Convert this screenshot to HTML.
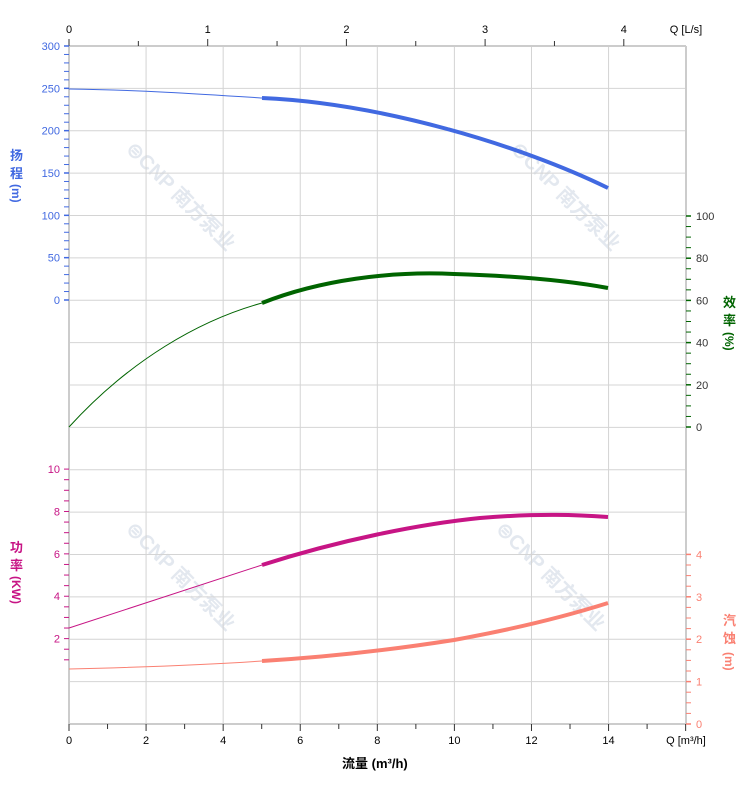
<!DOCTYPE html>
<html><head><meta charset="utf-8"><style>
body{margin:0;background:#fff;width:752px;height:797px;overflow:hidden}
svg{display:block;font-family:"Liberation Sans","Noto Sans CJK SC",sans-serif}
</style></head><body>
<svg id="s" width="752" height="797" xmlns="http://www.w3.org/2000/svg">
<g id="wm" fill="#e3e8ef" font-size="20" font-weight="bold">
<text transform="translate(125,150) rotate(45)">⊜CNP 南方泵业</text>
<text transform="translate(510,150) rotate(45)">⊜CNP 南方泵业</text>
<text transform="translate(125,530) rotate(45)">⊜CNP 南方泵业</text>
<text transform="translate(495,530) rotate(45)">⊜CNP 南方泵业</text>
</g>
<g id="grid" stroke="#d4d4d4" stroke-width="1"></g>
<g id="ax"></g>
<g fill="none" stroke-linecap="butt">
<path d="M69,89 C140,90 200,94 262,98" stroke="#4169E1" stroke-width="1"/>
<path d="M262,98 C380,103 520,145 608,188" stroke="#4169E1" stroke-width="4"/>
<path d="M69,427 C130,360 200,320 262,303" stroke="#006400" stroke-width="1"/>
<path d="M262,303 C320,280 390,271 454,274 C520,276 570,281 608,288" stroke="#006400" stroke-width="4"/>
<path d="M69,628 L262,565" stroke="#C71585" stroke-width="1"/>
<path d="M262,565 C340,540 420,524 480,518 C540,513 580,515 608,517" stroke="#C71585" stroke-width="4"/>
<path d="M69,669 C150,667 220,664 262,661" stroke="#FA8072" stroke-width="1"/>
<path d="M262,661 C330,657 390,650 454,640 C520,628 570,615 608,603" stroke="#FA8072" stroke-width="4"/>
</g>
<g font-size="13" font-weight="bold">
<text x="10" y="160" fill="#4169E1">扬</text><text x="10" y="178" fill="#4169E1">程</text>
<text transform="translate(12,184) rotate(90)" fill="#4169E1" font-size="12">(m)</text>
<text x="723" y="307" fill="#006400">效</text><text x="723" y="325" fill="#006400">率</text>
<text transform="translate(725,332) rotate(90)" fill="#006400" font-size="12">(%)</text>
<text x="10" y="552" fill="#C71585">功</text><text x="10" y="570" fill="#C71585">率</text>
<text transform="translate(12,576) rotate(90)" fill="#C71585" font-size="12">(KW)</text>
<text x="723" y="625" fill="#FA8072">汽</text><text x="723" y="643" fill="#FA8072">蚀</text>
<text transform="translate(725,652) rotate(90)" fill="#FA8072" font-size="12">(m)</text>
<text x="342" y="768" fill="#000">流量 (m³/h)</text>
</g>
</svg>
<script>
var s=document.getElementById('s'),g=document.getElementById('grid'),a=document.getElementById('ax'),N='http://www.w3.org/2000/svg';
function L(p,x1,y1,x2,y2,c,w){var e=document.createElementNS(N,'line');e.setAttribute('x1',x1);e.setAttribute('y1',y1);e.setAttribute('x2',x2);e.setAttribute('y2',y2);e.setAttribute('stroke',c);e.setAttribute('stroke-width',w||1);p.appendChild(e);}
function T(x,y,t,c,anc){var e=document.createElementNS(N,'text');e.setAttribute('x',x);e.setAttribute('y',y);e.setAttribute('fill',c);e.setAttribute('font-size','11');e.setAttribute('text-anchor',anc||'middle');e.textContent=t;a.appendChild(e);}
var sx=38.54;
for(var i=0;i<=16;i+=2){var x=69+i*sx;L(g,x,46,x,724,'#d4d4d4');}
for(var k=0;k<=16;k++){var y=46+k*42.375;L(g,69,y,686,y,'#d4d4d4');}
L(a,69,46,686,46,'#ccc',2);L(a,69,724,686,724,'#ccc',2);L(a,686,46,686,724,'#ccc',2);L(a,69,46,69,724,'#ccc',2);
for(var i=0;i<=16;i++){var x=69+i*sx;L(a,x,724,x,i%2?729:731,'#333');if(i%2==0&&i<16)T(x,744,i,'#000');}
T(686,744,'Q [m³/h]','#000');
for(var i=0;i<=4;i+=0.5){var x=69+i*138.7;L(a,x,46,x,i%1?41:39,'#333');if(i%1==0)T(x,33,i,'#000');}
T(686,33,'Q [L/s]','#000');
for(var v=0;v<=300;v+=10){var y=300-v*0.8467;L(a,64,y,69,y,'#4169E1',v%50?1:1.5);if(v%50==0)T(60,y+4,v,'#4169E1','end');}
for(var v=0;v<=100;v+=5){var y=427-v*2.11;L(a,686,y,691,y,'#006400',v%20?1:1.5);if(v%20==0)T(696,y+4,v,'#333','start');}
for(var v=1;v<=10;v+=0.5){var y=681-v*21.19;L(a,64,y,69,y,'#C71585',1);if(v%2==0)T(60,y+4,v,'#C71585','end');}
for(var v=0;v<=4;v+=0.25){var y=724-v*42.4;L(a,686,y,691,y,'#FA8072',v%1?1:1.5);if(v%1==0)T(696,y+4,v,'#FA8072','start');}
</script>
</body></html>
